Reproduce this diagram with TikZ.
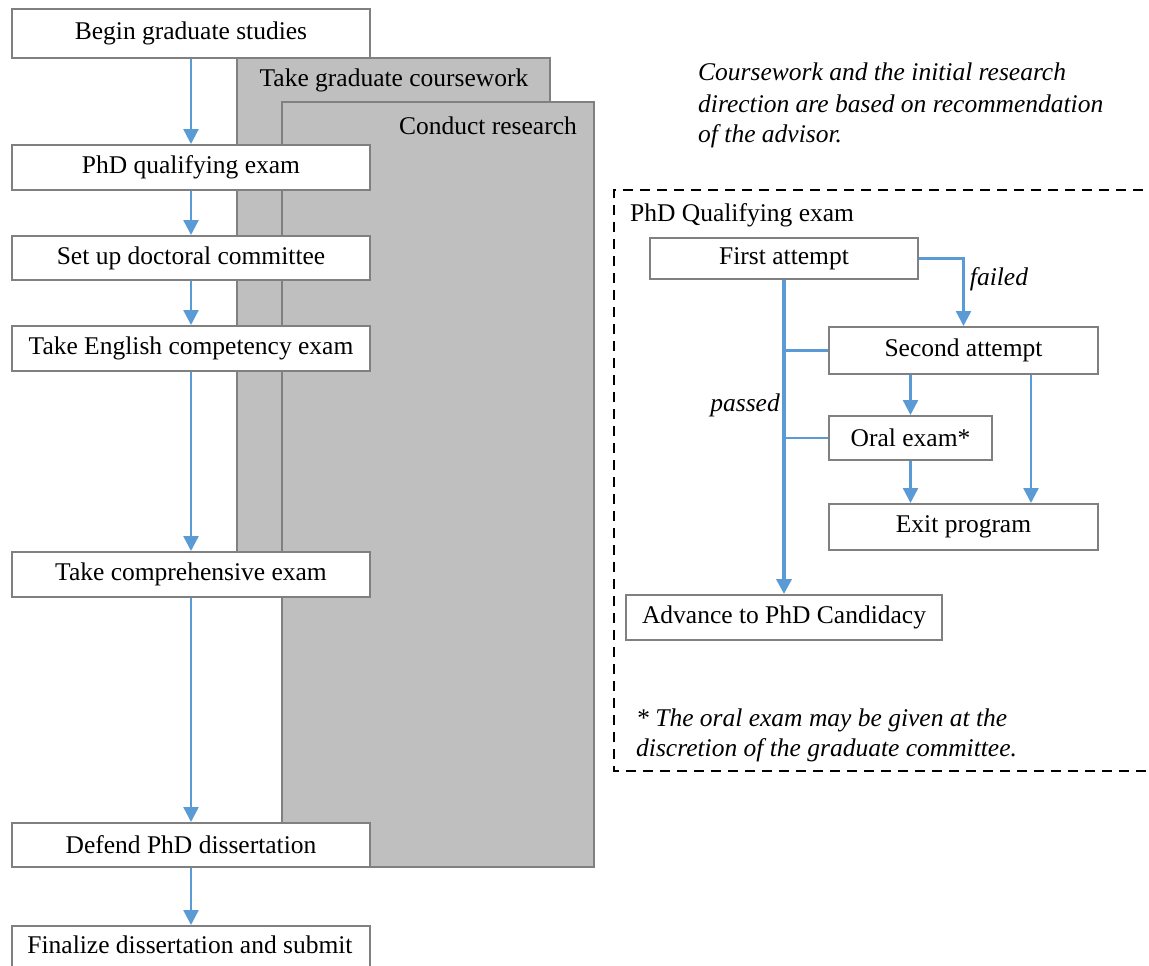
\documentclass[tikz,border=0pt]{standalone}
\usepackage{fontspec}
\setmainfont{Liberation Serif}
\usetikzlibrary{arrows.meta,calc}
\definecolor{arr}{HTML}{5B9BD5}
\definecolor{bord}{HTML}{808080}
\definecolor{grayfill}{HTML}{BFBFBF}
\begin{document}
\begin{tikzpicture}[x=1pt,y=-1pt, font=\fontsize{25.5}{30}\selectfont,
  box/.style={draw=bord, line width=2pt, fill=white, inner sep=0pt, anchor=north west},
  gbox/.style={draw=bord, line width=2pt, fill=grayfill, inner sep=0pt, anchor=north west},
  arrow/.style={draw=arr, line width=2.4pt, -{Triangle[width=15pt,length=15pt]}},
  conn/.style={draw=arr, line width=2.4pt},
  lbl/.style={inner sep=0pt},
  itl/.style={inner sep=0pt, font=\fontsize{25.5}{30}\selectfont\itshape}]
\useasboundingbox (0,0) rectangle (1149,966);
\clip (0,0) rectangle (1149,966);
\fill[white] (0,0) rectangle (1149,966);

% gray background boxes
\node[gbox, minimum width=313pt, minimum height=523pt] (cw) at (236,57) {};
\node[lbl] (cwt) at (394,80) {Take graduate coursework};
\node[gbox, minimum width=312pt, minimum height=765pt] (cr) at (281,101) {};
\node[lbl, anchor=east] (crt) at (577,126) {Conduct research};

% left column
\node[box, minimum width=358pt, minimum height=49pt] (begin) at (11,8) {};
\node[lbl] (begint) at (begin.center) {Begin graduate studies};
\node[box, minimum width=358pt, minimum height=45pt] (qual) at (11,144) {};
\node[lbl] (qualt) at (qual.center) {PhD qualifying exam};
\node[box, minimum width=358pt, minimum height=44pt] (setup) at (11,235) {};
\node[lbl] (setupt) at (setup.center) {Set up doctoral committee};
\node[box, minimum width=358pt, minimum height=45pt] (eng) at (11,325) {};
\node[lbl] (engt) at (eng.center) {Take English competency exam};
\node[box, minimum width=358pt, minimum height=45pt] (comp) at (11,551) {};
\node[lbl] (compt) at (comp.center) {Take comprehensive exam};
\node[box, minimum width=358pt, minimum height=44pt] (defend) at (11,822) {};
\node[lbl] (defendt) at (defend.center) {Defend PhD dissertation};
\node[box, minimum width=358pt, minimum height=46pt] (final) at (11,925) {};
\node[lbl, anchor=base] (finalt) at (190,953) {Finalize dissertation and submit};

\draw[arrow] (begin.south) -- (qual.north);
\draw[arrow] (qual.south) -- (setup.north);
\draw[arrow] (setup.south) -- (eng.north);
\draw[arrow] (eng.south) -- (comp.north);
\draw[arrow] (comp.south) -- (defend.north);
\draw[arrow] (defend.south) -- (final.north);

% note
\node[itl, anchor=base west] (n1) at (698,81) {Coursework and the initial research};
\node[itl, anchor=base west] (n2) at (698,112) {direction are based on recommendation};
\node[itl, anchor=base west] (n3) at (698,142) {of the advisor.};

% dashed region
\draw[black, line width=2pt, dash pattern=on 10pt off 7pt] (1160,190) -| (614,771) -- (1160,771);
\node[lbl, anchor=base west] (qtitle) at (630,221) {PhD Qualifying exam};

\node[box, minimum width=268pt, minimum height=41pt] (first) at (649,237) {};
\node[lbl] (firstt) at (first.center) {First attempt};
\node[box, minimum width=269pt, minimum height=47pt] (second) at (828,326) {};
\node[lbl] (secondt) at (second.center) {Second attempt};
\node[box, minimum width=163pt, minimum height=44pt] (oral) at (828,415) {};
\node[lbl] (oralt) at (oral.center) {Oral exam*};
\node[box, minimum width=269pt, minimum height=46pt] (exit) at (828,503) {};
\node[lbl] (exitt) at (exit.center) {Exit program};
\node[box, minimum width=316pt, minimum height=45pt] (adv) at (625,594) {};
\node[lbl] (advt) at (adv.center) {Advance to PhD Candidacy};

\draw[arrow] (first.east) -| (second.north);
\node[itl] (failed) at (999,279) {failed};
\draw[conn] (second.west) -- (second.west -| first.south);
\draw[conn] (oral.west) -- (oral.west -| first.south);
\draw[draw=arr, line width=3.8pt, -{Triangle[width=15pt,length=15pt]}] (first.south) -- (adv.north);
\node[itl, anchor=east] (passed) at (780,405) {passed};
\draw[arrow] (second.south -| oral.north) -- (oral.north);
\draw[arrow] (oral.south) -- (oral.south |- exit.north);
\draw[arrow] ([xshift=67.5pt]second.south) -- ([xshift=67.5pt]exit.north);

\node[itl, anchor=base west] (f1) at (636,726) {* The oral exam may be given at the};
\node[itl, anchor=base west] (f2) at (636,756) {discretion of the graduate committee.};
\end{tikzpicture}
\end{document}
